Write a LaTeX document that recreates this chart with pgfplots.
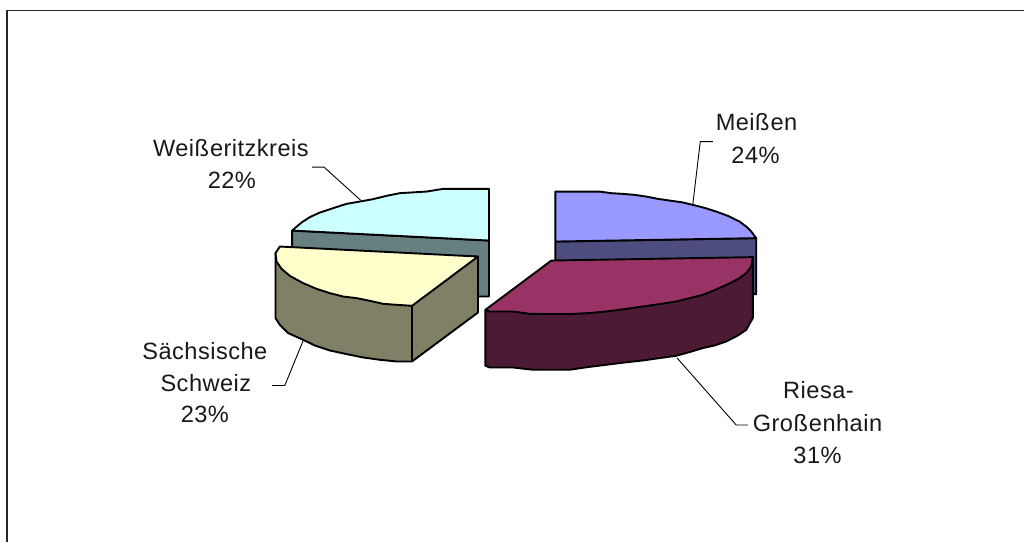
\documentclass[border=0pt]{standalone}
\usepackage{pgfplots}
\pgfplotsset{compat=1.18}
\usepackage{fontspec}
\setmainfont[LetterSpace=2]{Liberation Sans}
\definecolor{cyanT}{HTML}{CCFFFF}
\definecolor{cyanS}{HTML}{668080}
\definecolor{yelT}{HTML}{FFFFCC}
\definecolor{yelS}{HTML}{808066}
\definecolor{redT}{HTML}{993366}
\definecolor{redS}{HTML}{4D1A33}
\definecolor{bluT}{HTML}{9999FF}
\definecolor{bluS}{HTML}{4D4D80}
\tikzset{lab/.style={anchor=base, font=\fontsize{23.6}{27}\selectfont, text=black!90, inner sep=0pt}}
\begin{document}
\begin{tikzpicture}
\begin{axis}[
  hide axis, scale only axis, width=1025pt, height=542pt,
  xmin=0, xmax=1025, ymin=0, ymax=542, y dir=reverse,
  clip=false, no markers,
  every axis plot/.append style={line join=round, line width=1.9pt, draw=black},
]
\addplot[draw=none, fill=white] coordinates {(0,0)(1025,0)(1025,542)(0,542)(0,0)};
% frame
\addplot[line width=1.3pt, draw=black!85] coordinates {(7,542)(7,10.5)(1025,10.5)};
% Weisseritzkreis
\addplot[fill=cyanS] coordinates {(292.3,230.7)(489.3,240.7)(489.3,296.7)(292.3,296.7)(292.3,230.7)};
\addplot[fill=cyanT] coordinates {(489.3,240.7)(489.3,189)(443.3,189)(426.7,191.7)(400,193.3)(386.7,196)(373.3,199.3)(360,201.7)(346.7,204)(333.3,208.3)(320,212.7)(310,217.3)(301.7,222.7)(292.3,230.7)(489.3,240.7)};
% Meissen
\addplot[fill=bluS] coordinates {(555.7,241.7)(756.7,238.3)(756.7,294.3)(555.7,294.3)(555.7,241.7)};
\addplot[fill=bluT] coordinates {(555.7,241.7)(555.7,191.7)(600,191.7)(611.7,193.3)(623.3,194)(635,195)(646.7,196.7)(658.3,199)(670,200.7)(681.7,202.3)(693.3,205)(705,208)(716.7,211.7)(728.3,216)(740,221.7)(746.7,226.7)(751.7,231.7)(756.7,238.3)(555.7,241.7)};
% Saechsische Schweiz
\addplot[fill=yelS] coordinates {(275.7,253.3)(275.7,318.3)(280,325)(288.3,333.3)(303.3,340)(315,345.7)(330,350.7)(346.7,354.3)(363.3,357.7)(380,360)(396.7,361.7)(412.3,361.7)(478.3,312.7)(478.3,256.7)(275.7,253.3)};
\addplot[fill=yelT] coordinates {(478.3,256.7)(280,246.7)(275.7,253.3)(276.7,261.7)(281.7,269)(290,276)(303.3,283.3)(316.7,289)(330,293.3)(343.3,296.7)(356.7,298.3)(370,301)(383.3,304)(396.7,305)(412.3,306)(478.3,256.7)};
\addplot[fill=none] coordinates {(412.3,306)(412.3,361.7)};
% Riesa-Grossenhain
\addplot[fill=redS] coordinates {(485.7,310)(485.7,366)(490,367.7)(513.3,367.7)(533.3,370)(570,370)(588.3,367.3)(606.7,365)(625,362.7)(643.3,360.7)(660,358.3)(676.7,356)(690,352.3)(703.3,348.3)(715,345.7)(726.7,341.7)(738.3,335.7)(746.7,330)(753.3,318.3)(753.3,257.3)(485.7,310)};
\addplot[fill=redT] coordinates {(551.7,260.7)(753.3,257.3)(751.7,266.7)(746.7,273.3)(740,278.3)(731.7,282.7)(723.3,286.7)(713.3,291)(703.3,295)(690,298.3)(676.7,301.7)(660,304.3)(643.3,306.7)(625,309.3)(606.7,311.7)(588.3,313.3)(570,314.3)(550,314.3)(530,314)(513.3,311.7)(490,311.7)(485.7,310)(551.7,260.7)};
% leader lines
\addplot[line width=0.9pt] coordinates {(312.3,167.3)(324.3,167.3)(361,200.5)};
\addplot[line width=0.9pt] coordinates {(713.3,141.7)(700.7,141.7)(693.3,204)};
\addplot[line width=0.9pt] coordinates {(272.3,385.7)(285,385.7)(303.3,341)};
\addplot[line width=0.9pt] coordinates {(748.3,425.3)(736.7,425.3)(677.3,358)};
% labels
\node[lab] at (axis cs:231,156.7) {Weiß\kern1pt eritzkreis};
\node[lab] at (axis cs:232,189) {22\%};
\node[lab] at (axis cs:757,130.7) {Meiß\kern1pt en};
\node[lab] at (axis cs:756,163.3) {24\%};
\node[lab] at (axis cs:205,360) {Sächsische};
\node[lab] at (axis cs:206,391.5) {Schweiz};
\node[lab] at (axis cs:205,423) {23\%};
\node[lab] at (axis cs:819,399) {Riesa-};
\node[lab] at (axis cs:818,431.5) {Groß\kern1pt enhain};
\node[lab] at (axis cs:818,463.5) {31\%};
\end{axis}
\end{tikzpicture}
\end{document}
